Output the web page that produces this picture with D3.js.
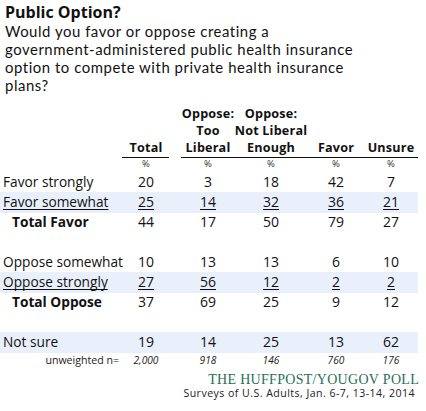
<!DOCTYPE html>
<html><head><meta charset="utf-8">
<script src="https://cdn.jsdelivr.net/npm/d3@7"></script>
<style>
html,body{margin:0;padding:0;background:#fff;}
svg{display:block;}
</style></head>
<body>
<script>
const title = "Public Option?";
const question = [
  "Would you favor or oppose creating a",
  "government-administered public health insurance",
  "option to compete with private health insurance",
  "plans?"
];
const columns = ["Total","Oppose: Too Liberal","Oppose: Not Liberal Enough","Favor","Unsure"];
const columnHeaderLines = [["Total"],["Oppose:","Too","Liberal"],["Oppose:","Not Liberal","Enough"],["Favor"],["Unsure"]];
const rowLabels = ["Favor strongly","Favor somewhat","Total Favor","","Oppose somewhat","Oppose strongly","Total Oppose","","Not sure"];
const totalVals   = [20,25,44,null,10,27,37,null,19];
const tooLiberal  = [3,14,17,null,13,56,69,null,14];
const notLiberal  = [18,32,50,null,13,12,25,null,25];
const favorVals   = [42,36,79,null,6,2,9,null,13];
const unsureVals  = [7,21,27,null,10,2,12,null,62];
const nValues = ["2,000","918","146","760","176"];
const boldRows = ["Total Favor","Total Oppose"];
const underlinedRows = ["Favor somewhat","Oppose strongly"];
const shadedRows = ["Favor somewhat","Oppose strongly","Not sure"];
const footerTitle = "THE HUFFPOST/YOUGOV POLL";
const footerSub = "Surveys of U.S. Adults, Jan. 6-7, 13-14, 2014";

const series = [totalVals, tooLiberal, notLiberal, favorVals, unsureVals];

const W = 426, H = 411;
const font = "'Open Sans', Lato, sans-serif";
const qFont = "Lato, 'Open Sans', sans-serif";
const svg = d3.select("body").append("svg").attr("width", W).attr("height", H);

const x = d3.scaleOrdinal().domain(columns).range([146, 208, 271, 336, 391]);
const y = d3.scaleLinear().domain([0, rowLabels.length - 1]).range([187, 347]);

// title & question (question as one multi-line text block)
svg.append("text").attr("x", 5).attr("y", 18).attr("font-family", font)
  .attr("font-size", 16).attr("font-weight", "bold").attr("fill", "#111").text(title);
const qText = svg.append("text").attr("x", 5).attr("y", 37).attr("font-family", qFont)
  .attr("font-size", 14.9).attr("letter-spacing", 0.55).attr("fill", "#111");
qText.selectAll("tspan").data(question).join("tspan")
  .attr("x", 5).attr("dy", (d,i) => i === 0 ? 0 : 18).text(d => d);

// shaded bands
svg.selectAll("rect.band").data(rowLabels.map((r,i)=>({r,i})).filter(d=>shadedRows.includes(d.r)))
  .join("rect").attr("class","band")
  .attr("x", 0).attr("width", 418)
  .attr("y", d => y(d.i) - 15).attr("height", 21)
  .attr("fill", "#eaf0fb");

// header (each column header as one multi-line text block)
columns.forEach((c, ci) => {
  const lines = columnHeaderLines[ci];
  const ht = svg.append("text").attr("x", x(c)).attr("y", 152 - (lines.length - 1) * 16.8)
    .attr("text-anchor","middle").attr("font-family", font).attr("font-size", 12.6)
    .attr("letter-spacing", 0.2).attr("font-weight","bold").attr("fill","#111");
  ht.selectAll("tspan").data(lines).join("tspan")
    .attr("x", x(c)).attr("dy", (d,i) => i === 0 ? 0 : 16.8).text(d => d);
  svg.append("text").attr("x", x(c)).attr("y", 167).attr("text-anchor","middle")
    .attr("font-family", font).attr("font-size", 9.5).attr("fill","#333").text("%");
});
svg.append("line").attr("x1",122).attr("x2",169).attr("y1",157.5).attr("y2",157.5).attr("stroke","#111").attr("stroke-width",1);
svg.append("line").attr("x1",181).attr("x2",418).attr("y1",157.5).attr("y2",157.5).attr("stroke","#111").attr("stroke-width",1);

// row labels
rowLabels.forEach((r, i) => {
  if (!r) return;
  const bold = boldRows.includes(r);
  const t = svg.append("text").attr("x", bold ? 12 : 3).attr("y", y(i))
    .attr("font-family", font).attr("font-size", 13.7)
    .attr("font-weight", bold ? "bold" : "normal").attr("fill","#111").text(r);
  if (underlinedRows.includes(r)) {
    const w = t.node().getComputedTextLength();
    svg.append("line").attr("x1", 3).attr("x2", 3 + w).attr("y1", y(i) + 2.5).attr("y2", y(i) + 2.5)
      .attr("stroke","#111").attr("stroke-width",1);
  }
});

// values
series.forEach((vals, ci) => {
  vals.forEach((v, i) => {
    if (v == null) return;
    const t = svg.append("text").attr("x", x(columns[ci])).attr("y", y(i))
      .attr("text-anchor","middle").attr("font-family", font).attr("font-size", 14)
      .attr("fill","#111").text(v);
    if (underlinedRows.includes(rowLabels[i])) {
      const w = t.node().getComputedTextLength();
      svg.append("line").attr("x1", x(columns[ci]) - w/2).attr("x2", x(columns[ci]) + w/2)
        .attr("y1", y(i) + 2.5).attr("y2", y(i) + 2.5).attr("stroke","#111").attr("stroke-width",1);
    }
  });
});

// n row
svg.append("text").attr("x", 119).attr("y", 364).attr("text-anchor","end")
  .attr("font-family", font).attr("font-size", 10.6).attr("fill","#222").text("unweighted n=");
nValues.forEach((n, ci) => {
  svg.append("text").attr("x", x(columns[ci])).attr("y", 364).attr("text-anchor","middle")
    .attr("font-family", font).attr("font-size", 10.2).attr("font-style","italic").attr("fill","#222").text(n);
});

// footer
svg.append("text").attr("x", 419).attr("y", 384).attr("text-anchor","end")
  .attr("font-family", "'Liberation Serif', 'DejaVu Serif', serif").attr("font-size", 14)
  .attr("letter-spacing", 0.3)
  .attr("fill", "#2a6e58").text(footerTitle);
svg.append("text").attr("x", 415).attr("y", 397).attr("text-anchor","end")
  .attr("font-family", font).attr("font-size", 10.6).attr("letter-spacing", 0.45)
  .attr("fill","#222").text(footerSub);
</script>
</body></html>
